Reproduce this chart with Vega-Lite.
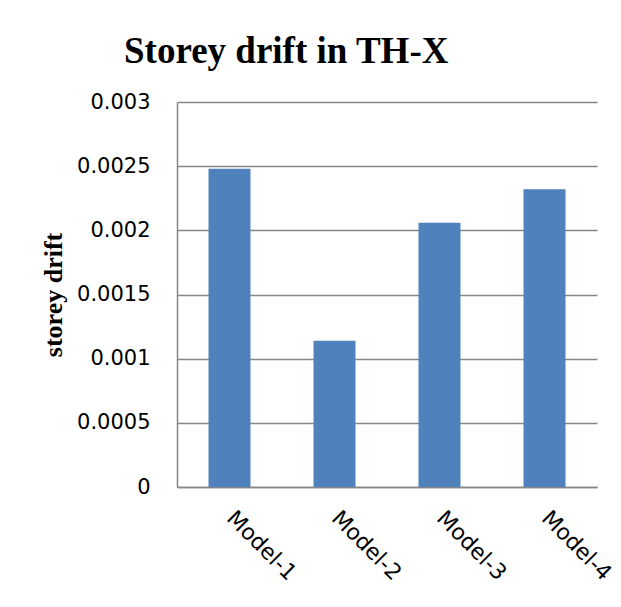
{
  "$schema": "https://vega.github.io/schema/vega-lite/v6.json",
  "autosize": {"type": "none"},
  "padding": {"left": 177, "top": 102, "right": 24, "bottom": 120},
  "width": 420,
  "height": 385,
  "background": "white",
  "title": {
    "text": "Storey drift in TH-X",
    "font": "Liberation Serif",
    "fontSize": 37,
    "fontWeight": "bold",
    "color": "black",
    "anchor": "start",
    "frame": "group",
    "dx": -53,
    "dy": 39,
    "baseline": "alphabetic",
    "offset": 30
  },
  "data": {
    "values": [
      {"model": "Model-1", "drift": 0.00248},
      {"model": "Model-2", "drift": 0.00114},
      {"model": "Model-3", "drift": 0.00206},
      {"model": "Model-4", "drift": 0.00232}
    ]
  },
  "mark": {"type": "bar", "color": "#4F81BD"},
  "encoding": {
    "x": {
      "field": "model",
      "type": "nominal",
      "sort": null,
      "scale": {"paddingInner": 0.6, "paddingOuter": 0.3},
      "axis": {
        "title": null,
        "labelAngle": 45,
        "labelAlign": "left",
        "labelBaseline": "top",
        "labelPadding": 20,
        "labelOffset": 8,
        "labelFont": "DejaVu Sans",
        "labelFontSize": 22,
        "labelColor": "black",
        "ticks": false,
        "domainColor": "#868686",
        "domainWidth": 1.5,
        "grid": false
      }
    },
    "y": {
      "field": "drift",
      "type": "quantitative",
      "scale": {"domain": [0, 0.003], "nice": false},
      "axis": {
        "title": "storey drift",
        "titleFont": "Liberation Serif",
        "titleFontSize": 26,
        "titleFontWeight": "bold",
        "titleColor": "black",
        "titlePadding": 10,
        "values": [0, 0.0005, 0.001, 0.0015, 0.002, 0.0025, 0.003],
        "format": "~g",
        "labelFont": "DejaVu Sans",
        "labelFontSize": 21,
        "labelColor": "black",
        "labelPadding": 27,
        "ticks": false,
        "domainColor": "#868686",
        "domainWidth": 1.5,
        "grid": true,
        "gridColor": "#868686",
        "gridWidth": 1.5
      }
    }
  },
  "config": {"view": {"stroke": null}}
}
